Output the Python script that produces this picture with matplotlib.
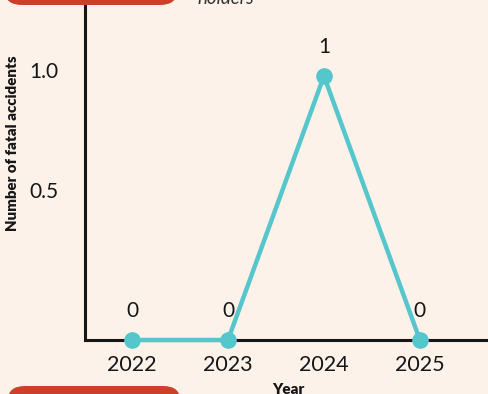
import matplotlib
matplotlib.use("Agg")
import matplotlib.pyplot as plt
import matplotlib.transforms as mtransforms
from matplotlib.patches import FancyBboxPatch

years = [2022, 2023, 2024, 2025]
fatal_accidents = [0, 0, 1, 0]
year_labels = ["2022", "2023", "2024", "2025"]
ytick_values = [0.5, 1.0]
ytick_labels = ["0.5", "1.0"]

BG = "#FCF2EA"
LINE = "#55C6CB"
RED = "#CC3F28"
INK = "#161616"

plt.rcParams['font.family'] = ['Lato', 'DejaVu Sans']

W, H = 489, 394
fig = plt.figure(figsize=(W / 100, H / 100), dpi=100, facecolor=BG)
ax = fig.add_axes([85 / W, 54 / H, 1 - 85 / W, 340 / H])
ax.set_facecolor(BG)

ax.plot(years, fatal_accidents, color=LINE, lw=3.2, marker="o", ms=11,
        solid_capstyle="round", zorder=3, clip_on=False)

for x, y in zip(years, fatal_accidents):
    ax.annotate(f"{y}", (x, y), xytext=(0, 21), textcoords="offset points",
                ha="center", va="center", fontsize=15, color=INK)

ax.set_xlim(2021.51, 2025.72)
ax.set_ylim(0, 340 / 264)

ax.set_xticks(years)
ax.set_xticklabels(year_labels, fontsize=15.5, color=INK)
ax.set_yticks(ytick_values)
ax.set_yticklabels(ytick_labels, fontsize=15, color=INK)
ax.tick_params(axis="both", length=0)
ax.tick_params(axis="x", pad=11)
ax.tick_params(axis="y", pad=19)

# slight upward offset of y labels as in reference
offsets = [13, 4]
for lbl, dy in zip(ax.get_yticklabels(), offsets):
    lbl.set_transform(lbl.get_transform() + mtransforms.ScaledTranslation(0, dy / 72, fig.dpi_scale_trans))

for s in ["top", "right"]:
    ax.spines[s].set_visible(False)
for s in ["left", "bottom"]:
    ax.spines[s].set_linewidth(2.2)
    ax.spines[s].set_color(INK)

ax.set_ylabel("Number of fatal accidents", fontsize=10.8, fontweight="heavy", color=INK)
ax.yaxis.set_label_coords(-66 / 404, 1 - 143 / 340)
ax.set_xlabel("Year", fontsize=11, fontweight="heavy", color=INK)
ax.xaxis.set_label_coords(203 / 404, -43 / 340)

# decorative page elements (cropped parts of the surrounding page)
fig.patches.append(FancyBboxPatch((5 / W, 1 - 5 / H), 172 / W, 60 / H,
                                  boxstyle="round,pad=0,rounding_size=0.035",
                                  transform=fig.transFigure, facecolor=RED, edgecolor="none"))
fig.patches.append(FancyBboxPatch((8 / W, -52 / H), 172 / W, 60 / H,
                                  boxstyle="round,pad=0,rounding_size=0.035",
                                  transform=fig.transFigure, facecolor=RED, edgecolor="none"))
fig.text(197 / W, 1 - 4 / H, "holders", fontsize=13.5, style="italic", color="#333333",
         ha="left", va="baseline")

fig.savefig("out.png", dpi=100, facecolor=BG)
